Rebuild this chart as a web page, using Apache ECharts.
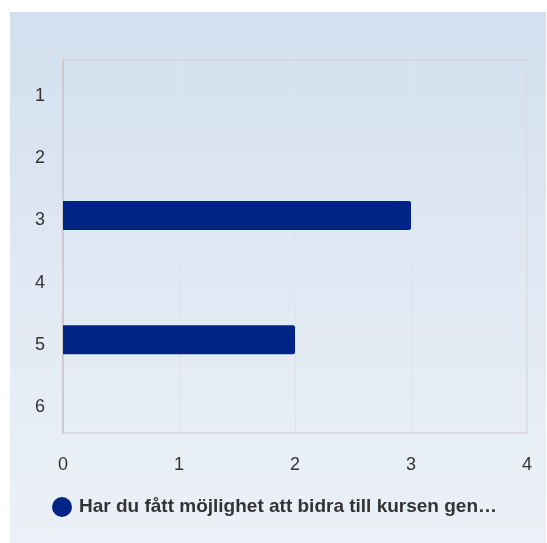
<!DOCTYPE html>
<html>
<head>
<meta charset="utf-8">
<script src="https://cdn.jsdelivr.net/npm/echarts@6/dist/echarts.min.js"></script>
<style>
  html, body { margin: 0; padding: 0; background: #fff; }
  #main { width: 547px; height: 543px; }
</style>
</head>
<body>
<div id="main"></div>
<script>
const categories = ['1', '2', '3', '4', '5', '6'];
const values = [0, 0, 3, 0, 2, 0];
const seriesName = 'Har du fått möjlighet att bidra till kursen gen…';
const xTicks = [0, 1, 2, 3, 4];

const chart = echarts.init(document.getElementById('main'));
const font = '"Liberation Sans", Arial, sans-serif';

const option = {
    backgroundColor: '#fff',
    animation: false,
    graphic: [{
        type: 'rect',
        z: -10,
        silent: true,
        shape: { x: 10, y: 12, width: 536, height: 531 },
        style: {
            fill: new echarts.graphic.LinearGradient(0, 0, 0, 1, [
                { offset: 0, color: '#d4e0ef' },
                { offset: 1, color: '#ecf1f8' }
            ])
        }
    }],
    grid: {
        left: 63,
        top: 60,
        width: 464,
        height: 373,
        show: true,
        borderColor: '#cccccc',
        borderWidth: 1,
        backgroundColor: 'transparent'
    },
    xAxis: {
        type: 'value',
        min: xTicks[0],
        max: xTicks[xTicks.length - 1],
        interval: 1,
        axisLine: { show: false },
        axisTick: { show: false },
        axisLabel: { fontSize: 18, color: '#333', fontFamily: font, margin: 23 },
        splitLine: { lineStyle: { color: '#e0e4ea', width: 1 } }
    },
    yAxis: {
        type: 'category',
        inverse: true,
        data: categories,
        axisLine: { show: true, lineStyle: { color: '#cccccc', width: 2 } },
        axisTick: { show: false },
        axisLabel: {
            fontSize: 18, color: '#333', fontFamily: font, margin: 18,
            verticalAlign: 'top',
            padding: [-4, 0, 0, 0]
        },
        splitLine: { show: false }
    },
    legend: {
        left: 52,
        top: 497,
        padding: 0,
        icon: 'circle',
        itemWidth: 20,
        itemHeight: 20,
        itemGap: 10,
        textStyle: { fontSize: 19, fontWeight: 'bold', color: '#333', fontFamily: font, padding: [0, 0, 0, 2] }
    },
    series: [{
        name: seriesName,
        type: 'bar',
        data: values,
        barWidth: 29,
        itemStyle: { color: '#002486', borderRadius: [0, 2, 2, 0] }
    }]
};

chart.setOption(option);
</script>
</body>
</html>
